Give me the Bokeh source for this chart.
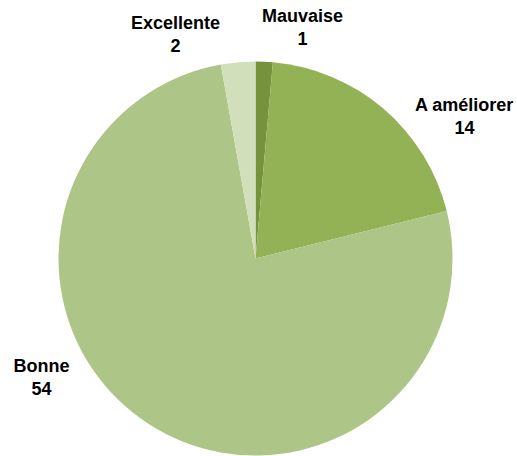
import math
from bokeh.plotting import figure
from bokeh.models import Range1d, ColumnDataSource
from bokeh.core.properties import value
from bokeh.embed import file_html
from bokeh.resources import INLINE

categories = ["Mauvaise", "A améliorer", "Bonne", "Excellente"]
counts = [1, 14, 54, 2]
colors = ["#76923C", "#93B155", "#ADC586", "#D2DFBB"]

# label positions (page pixel coords: center x, baseline of first line)
label_x = [302, 464, 41, 175]
label_y = [15, 104, 365, 22]

W, H = 517, 456
p = figure(width=W, height=H, output_backend="svg", toolbar_location=None,
           x_range=Range1d(0, W), y_range=Range1d(0, H), min_border=0)
p.axis.visible = False
p.grid.visible = False
p.outline_line_color = None
p.background_fill_color = "white"

cx, cy, r = 255, H - 258, 197
total = sum(counts)
starts, ends = [], []
cum = 0
for c in counts:
    starts.append(math.pi / 2 - 2 * math.pi * cum / total)
    cum += c
    ends.append(math.pi / 2 - 2 * math.pi * cum / total)

src = ColumnDataSource(dict(start=starts, end=ends, color=colors,
                            x=[cx] * len(counts), y=[cy] * len(counts)))
p.wedge(x="x", y="y", radius=r, start_angle="start", end_angle="end",
        direction="clock", fill_color="color", line_color=None, source=src)

tsrc = ColumnDataSource(dict(
    x=label_x,
    y1=[H - ly for ly in label_y],
    y2=[H - ly - 23 for ly in label_y],
    name=categories,
    val=[str(c) for c in counts]))
for col in ("name", "val"):
    p.text(x="x", y="y1" if col == "name" else "y2", text=col, source=tsrc,
           text_font=value("Liberation Sans"), text_font_size="18px",
           text_font_style="bold", text_align="center",
           text_baseline="alphabetic", text_color="#000000")

open("out.html", "w").write(file_html(p, INLINE))
